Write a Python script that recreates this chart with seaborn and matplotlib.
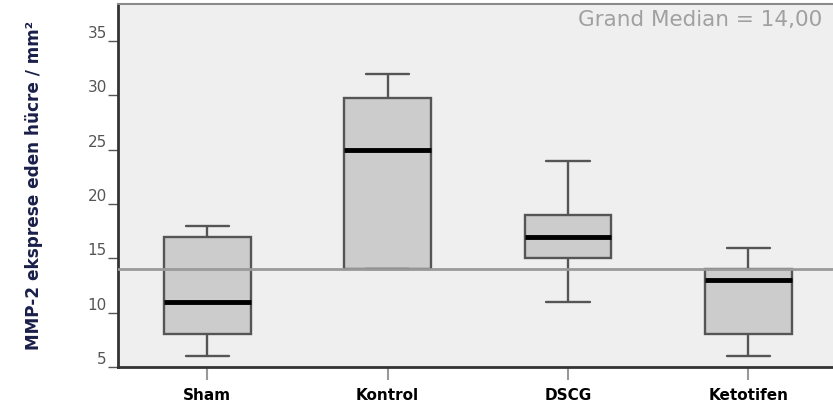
import numpy as np
import pandas as pd
import seaborn as sns
import matplotlib.pyplot as plt

groups = ['Sham', 'Kontrol', 'DSCG', 'Ketotifen']
# values: min, Q1, median, Q3, max
sham = [6, 8, 11, 17, 18]
kontrol = [14, 14, 25, 29.75, 32]
dscg = [11, 15, 17, 19, 24]
ketotifen = [6, 8, 13, 14, 16]
grand_median = 14.0

df = pd.DataFrame({
    'group': np.repeat(groups, 5),
    'value': sham + kontrol + dscg + ketotifen,
})

sns.set_style('white')
plt.rcParams['font.family'] = ['DejaVu Sans']

fig = plt.figure(figsize=(8.33, 4.12), dpi=100)
ax = fig.add_axes([0.1417, 0.109, 0.865, 0.881])
ax.set_facecolor('#efefef')

sns.boxplot(data=df, x='group', y='value', order=groups, ax=ax,
            color='#cccccc', width=0.48, linecolor='#555555', linewidth=1.7,
            medianprops={'color': 'black', 'linewidth': 3.5},
            whis=1.5, showfliers=False)

ax.axhline(grand_median, color='#9a9a9a', lw=2, zorder=3)
ax.text(0.978, 0.985, 'Grand Median = 14,00', transform=ax.transAxes,
        ha='right', va='top', fontsize=15.5, color='#a0a0a0')

ax.set_ylim(5, 38.4)
ax.set_xlim(-0.495, 3.5)
ax.set_yticks([5, 10, 15, 20, 25, 30, 35])
ax.set_xlabel('')
ax.set_ylabel('MMP-2 eksprese eden hücre / mm²', fontsize=12.2,
              fontweight='bold', color='#1a1f4a', labelpad=32)

ax.tick_params(axis='y', length=7, width=1, color='#555555', labelsize=11,
               labelcolor='#555555', pad=1, left=True)
ax.tick_params(axis='x', length=9, width=1.5, color='#999999', labelsize=11,
               pad=6, bottom=True)
for lab in ax.get_yticklabels():
    lab.set_va('bottom')
for lab in ax.get_xticklabels():
    lab.set_fontweight('bold')
    lab.set_color('black')

for side in ['left', 'bottom']:
    ax.spines[side].set_color('#333333')
    ax.spines[side].set_linewidth(2)
ax.spines['top'].set_color('#8a8a8a')
ax.spines['top'].set_linewidth(1.5)
ax.spines['right'].set_visible(False)

plt.savefig('out.png', dpi=100)
